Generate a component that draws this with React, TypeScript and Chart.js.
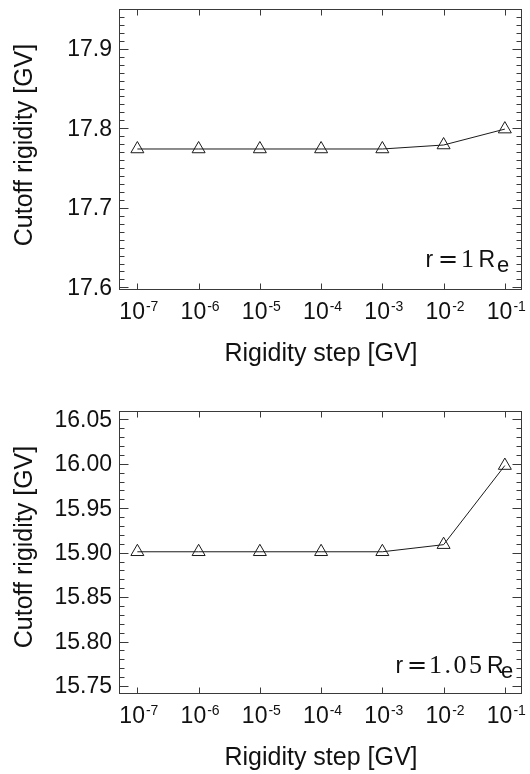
import React, { useEffect, useRef } from 'react';
import { Chart, registerables } from 'chart.js';

Chart.register(...registerables);

// ---- data ----
const xSteps = [1e-7, 1e-6, 1e-5, 1e-4, 1e-3, 1e-2, 1e-1];
const xTickExponents = [-7, -6, -5, -4, -3, -2, -1];
const cutoffR1 = [17.774, 17.774, 17.774, 17.774, 17.774, 17.779, 17.799];
const cutoffR105 = [15.901, 15.901, 15.901, 15.901, 15.901, 15.909, 15.998];
const yTicksR1 = [17.6, 17.7, 17.8, 17.9];
const yTicksR105 = [15.75, 15.8, 15.85, 15.9, 15.95, 16.0, 16.05];
const yMinorStep = 0.01;
const xTitle = 'Rigidity step [GV]';
const yTitle = 'Cutoff rigidity [GV]';

const SANS = '"Liberation Sans", Arial, Helvetica, sans-serif';
const SERIF = '"Liberation Serif", "Times New Roman", serif';
const AXIS_COLOR = '#3a3a3a';
const INK = '#111';

type AnnPart = { text: string; font: string; x: number; dy: number; spacing?: number };

interface PanelProps {
  values: number[];
  yTicks: number[];
  decimals: number;
  yMin: number;
  yMax: number;
  padTop: number;
  padBottom: number;
  yTitleCenter: number;
  annBaseline: number;
  annParts: AnnPart[];
}

function Panel(props: PanelProps) {
  const ref = useRef<HTMLCanvasElement>(null);
  useEffect(() => {
    const canvas = ref.current!;
    const { values, yTicks, decimals, yMin, yMax, padTop, padBottom, yTitleCenter, annBaseline, annParts } = props;

    const framePlugin = {
      id: 'idlFrame',
      afterDraw(chart: any) {
        const { ctx, chartArea: a, scales } = chart;
        const xs = scales.x;
        const ys = scales.y;
        ctx.save();
        const L = Math.round(a.left) + 0.5;
        const R = Math.round(a.right) - 0.5;
        const T = Math.round(a.top) + 0.5;
        const B = Math.round(a.bottom) + 0.5;
        ctx.strokeStyle = AXIS_COLOR;
        ctx.lineWidth = 1;
        ctx.strokeRect(L, T, R - L, B - T);

        // y ticks (major + minor), both sides
        const kStart = Math.ceil(yMin / yMinorStep - 1e-6);
        const kEnd = Math.floor(yMax / yMinorStep + 1e-6);
        ctx.beginPath();
        for (let k = kStart; k <= kEnd; k++) {
          const v = k * yMinorStep;
          const isMajor = yTicks.some((t) => Math.abs(t - v) < 1e-6);
          const len = isMajor ? 9 : 5;
          const py = Math.round(ys.getPixelForValue(v)) + 0.5;
          ctx.moveTo(L, py);
          ctx.lineTo(L + len, py);
          ctx.moveTo(R, py);
          ctx.lineTo(R - len, py);
        }
        // x ticks top & bottom
        for (const e of xTickExponents) {
          const px = Math.round(xs.getPixelForValue(Math.pow(10, e))) + 0.5;
          ctx.moveTo(px, B);
          ctx.lineTo(px, B - 6);
          ctx.moveTo(px, T);
          ctx.lineTo(px, T + 6);
        }
        ctx.stroke();

        // y tick labels
        ctx.fillStyle = INK;
        ctx.font = `23px ${SANS}`;
        ctx.textAlign = 'right';
        ctx.textBaseline = 'middle';
        for (const t of yTicks) {
          ctx.fillText(t.toFixed(decimals), a.left - 7, ys.getPixelForValue(t) + 1);
        }

        // x tick labels 10^e
        ctx.textAlign = 'left';
        ctx.textBaseline = 'alphabetic';
        for (const e of xTickExponents) {
          const px = xs.getPixelForValue(Math.pow(10, e));
          ctx.font = `23px ${SANS}`;
          const wBase = ctx.measureText('10').width;
          ctx.font = `14px ${SANS}`;
          const sup = String(e);
          const wSup = ctx.measureText(sup).width;
          const total = wBase + 1 + wSup;
          const x0 = px - total / 2 + 1.5;
          ctx.font = `23px ${SANS}`;
          ctx.fillText('10', x0, a.bottom + 30);
          ctx.font = `14px ${SANS}`;
          ctx.fillText(sup, x0 + wBase + 1, a.bottom + 22);
        }

        // x title
        ctx.font = `25px ${SANS}`;
        ctx.textAlign = 'center';
        ctx.fillText(xTitle, 321, a.bottom + 71.5);

        // y title
        ctx.save();
        ctx.translate(31.5, yTitleCenter);
        ctx.rotate(-Math.PI / 2);
        ctx.textAlign = 'center';
        ctx.textBaseline = 'alphabetic';
        ctx.fillText(yTitle, 0, 0);
        ctx.restore();

        // annotation r = ... R_e
        ctx.textAlign = 'left';
        for (const p of annParts) {
          ctx.font = p.font;
          (ctx as any).letterSpacing = `${p.spacing || 0}px`;
          ctx.fillText(p.text, p.x, annBaseline + p.dy);
        }
        (ctx as any).letterSpacing = '0px';
        ctx.restore();
      },
    };

    const chart = new Chart(canvas, {
      type: 'line',
      data: {
        datasets: [
          {
            data: xSteps.map((x, i) => ({ x, y: values[i] })),
            borderColor: '#1a1a1a',
            borderWidth: 1,
            pointStyle: 'triangle',
            pointRadius: 7.5,
            pointBorderWidth: 1,
            pointBorderColor: '#1a1a1a',
            pointBackgroundColor: 'rgba(255,255,255,0)',
            tension: 0,
            clip: false as any,
          },
        ],
      },
      options: {
        responsive: false,
        animation: false,
        devicePixelRatio: 1,
        events: [],
        layout: { padding: { left: 119, right: 1, top: padTop, bottom: padBottom } },
        plugins: {
          legend: { display: false },
          tooltip: { enabled: false },
          title: { display: false },
        },
        scales: {
          x: { type: 'logarithmic', min: Math.pow(10, -7.3), max: Math.pow(10, -0.728), display: false },
          y: { type: 'linear', min: yMin, max: yMax, display: false },
        },
      },
      plugins: [framePlugin],
    } as any);
    return () => chart.destroy();
  }, []);
  return <canvas ref={ref} width={530} height={387} style={{ display: 'block', width: 530, height: 387 }} />;
}

export default function App() {
  return (
    <div style={{ position: 'absolute', left: 0, top: 0, width: 530, height: 774, background: '#fff' }}>
      <Panel
        values={cutoffR1}
        yTicks={yTicksR1}
        decimals={1}
        yMin={17.598}
        yMax={17.9506}
        padTop={7}
        padBottom={98}
        yTitleCenter={145}
        annBaseline={266.5}
        annParts={[
          { text: 'r', font: `23px ${SANS}`, x: 425.5, dy: 0 },
          { text: '=', font: `24px "DejaVu Sans", sans-serif`, x: 438, dy: 0 },
          { text: '1', font: `26px ${SERIF}`, x: 461, dy: 0 },
          { text: 'R', font: `23px ${SANS}`, x: 478.5, dy: 0 },
          { text: 'e', font: `22px ${SANS}`, x: 497, dy: 5 },
        ]}
      />
      <Panel
        values={cutoffR105}
        yTicks={yTicksR105}
        decimals={2}
        yMin={15.7418}
        yMax={16.0597}
        padTop={23.7}
        padBottom={80.7}
        yTitleCenter={160}
        annBaseline={286.3}
        annParts={[
          { text: 'r', font: `23px ${SANS}`, x: 395.5, dy: 0 },
          { text: '=', font: `24px "DejaVu Sans", sans-serif`, x: 407, dy: 0 },
          { text: '1.05', font: `26px ${SERIF}`, x: 429, dy: 0, spacing: 2.5 },
          { text: 'R', font: `23px ${SANS}`, x: 487, dy: 0 },
          { text: 'e', font: `22px ${SANS}`, x: 501, dy: 5 },
        ]}
      />
    </div>
  );
}
